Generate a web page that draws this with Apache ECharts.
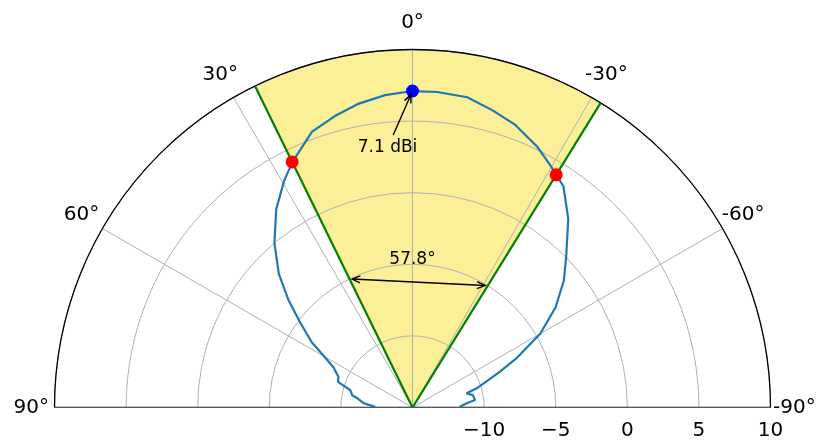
<!DOCTYPE html>
<html>
<head>
<meta charset="utf-8">
<script src="https://cdn.jsdelivr.net/npm/echarts@6/dist/echarts.min.js"></script>
<style>
  html, body { margin: 0; padding: 0; background: #fff; }
  #chart { width: 819px; height: 448px; }
</style>
</head>
<body>
<div id="chart"></div>
<script>
// Measured E-plane pattern: angle in degrees (positive to the left), gain in dBi
const patternAngle = [89, 85, 80.5, 78.5, 74.5, 71, 67.5, 63, 60, 57, 53, 49, 45, 40, 34.5, 29.5, 26, 20, 15, 10, 5, 0,
  -4.5, -10, -15, -20, -25.5, -30, -34.3, -39.5, -45.5, -50, -55, -60, -64.5, -67.7, -70.8, -73.3, -75.3, -78.4, -83.2, -85.6, -89];
const patternGain = [-12.4, -11.6, -11.1, -10.7, -10.5, -9.5, -9.4, -8.8, -7.9, -6.6, -5.2, -3.5, -1.8, 0.0, 1.8, 3.2, 4.1, 5.5, 6.05, 6.55, 6.9, 7.1,
  7.1, 7.0, 6.5, 6.0, 5.2, 4.4, 3.7, 2.1, 0.05, -1.2, -2.8, -4.7, -6.9, -8.4, -9.6, -10.3, -11.1, -10.7, -10.6, -11.2, -11.7];

// Peak and half-power beam edges
const peakAngle = 0;
const peakGain = 7.1;
const beamEdgeAngles = [26.1, -31.7];
const halfPowerGain = 4.1;
const beamwidth = 57.8;

// Axis ticks
const angleTicks = [-90, -60, -30, 0, 30, 60, 90];
const gainTicks = [-15, -10, -5, 0, 5, 10];

const gainMin = gainTicks[0];
const gainMax = gainTicks[gainTicks.length - 1];
const FONT = 'DejaVu Sans';

const patternData = patternAngle.map((a, i) => [patternGain[i], a]);

// Per-label spacing for the angular tick labels
const angleLabelStyle = {
  a90:  { padding: [0, 18.5, 0, 0] },
  a60:  { padding: [0, 14.5, 10, 0] },
  a30:  { padding: [0, 2, 24, 0] },
  a0:   { padding: [0, 0, 29.5, 0] },
  am30: { padding: [0, 0, 24, 0] },
  am60: { padding: [0, 0, 10, 10.5] },
  am90: { padding: [0, 0, 0, 15.5] }
};
Object.keys(angleLabelStyle).forEach(k => {
  Object.assign(angleLabelStyle[k], { fontSize: 20, fontFamily: FONT, color: '#000' });
});
function angleKey(v) { return v < 0 ? 'am' + (-v) : 'a' + v; }

function toward(p, q, d) {
  const dx = q[0] - p[0], dy = q[1] - p[1];
  const len = Math.hypot(dx, dy);
  return [p[0] + dx / len * d, p[1] + dy / len * d];
}
function arrowHead(tip, from, len, half) {
  const dx = tip[0] - from[0], dy = tip[1] - from[1];
  const d = Math.hypot(dx, dy);
  const ux = dx / d, uy = dy / d;
  const bx = tip[0] - ux * len, by = tip[1] - uy * len;
  return {
    type: 'polyline',
    shape: { points: [[bx - uy * half, by + ux * half], tip, [bx + uy * half, by - ux * half]] },
    style: { stroke: '#000', fill: null, lineWidth: 1.4 }
  };
}

const chart = echarts.init(document.getElementById('chart'), null, { renderer: 'canvas' });

const option = {
  animation: false,
  backgroundColor: '#fff',
  polar: { center: [412.5, 407.5], radius: 358 },
  angleAxis: {
    type: 'value',
    min: angleTicks[0],
    max: angleTicks[angleTicks.length - 1],
    interval: 30,
    startAngle: 0,
    endAngle: 180,
    clockwise: false,
    axisLine: { show: true, lineStyle: { color: '#000', width: 1.3 } },
    axisTick: { show: false },
    splitLine: { show: true, lineStyle: { color: '#b0b0b0', width: 1 } },
    axisLabel: {
      margin: -13,
      formatter: v => '{' + angleKey(v) + '|' + v + '°}',
      rich: angleLabelStyle
    }
  },
  radiusAxis: {
    type: 'value',
    min: gainMin,
    max: gainMax,
    interval: 5,
    axisLine: { show: false },
    axisTick: { show: false },
    splitLine: { show: true, lineStyle: { color: '#b0b0b0', width: 1 } },
    axisLabel: {
      margin: -23.5,
      verticalAlign: 'middle',
      fontSize: 20,
      fontFamily: FONT,
      color: '#000',
      formatter: v => (v === gainMin ? '' : String(v).replace('-', '\u2212'))
    }
  },
  series: [
    {
      // shaded half-power beam sector
      type: 'custom',
      coordinateSystem: 'polar',
      z: -1,
      silent: true,
      data: [[gainMax, beamEdgeAngles[0]]],
      renderItem: (params, api) => {
        const pts = [api.coord([gainMin, 0])];
        const a0 = beamEdgeAngles[0], a1 = beamEdgeAngles[1];
        const steps = 60;
        for (let i = 0; i <= steps; i++) {
          pts.push(api.coord([gainMax, a0 + (a1 - a0) * i / steps]));
        }
        return { type: 'polygon', shape: { points: pts }, style: { fill: '#fbef98', stroke: null } };
      }
    },
    {
      // baseline of the half-plane frame
      type: 'line',
      coordinateSystem: 'polar',
      data: [[gainMax, 90], [gainMax, -90]],
      showSymbol: false,
      silent: true,
      z: 1,
      lineStyle: { color: '#000', width: 1.3 }
    },
    {
      type: 'line',
      coordinateSystem: 'polar',
      data: patternData,
      showSymbol: false,
      smooth: false,
      z: 3,
      lineStyle: { color: '#1f77b4', width: 2.2 }
    },
    {
      type: 'line',
      coordinateSystem: 'polar',
      data: [[gainMin, beamEdgeAngles[0]], [gainMax, beamEdgeAngles[0]]],
      showSymbol: false,
      z: 4,
      lineStyle: { color: '#008000', width: 2.2 }
    },
    {
      type: 'line',
      coordinateSystem: 'polar',
      data: [[gainMin, beamEdgeAngles[1]], [gainMax, beamEdgeAngles[1]]],
      showSymbol: false,
      z: 4,
      lineStyle: { color: '#008000', width: 2.2 }
    },
    {
      type: 'scatter',
      coordinateSystem: 'polar',
      data: beamEdgeAngles.map(a => [halfPowerGain, a]),
      symbolSize: 13,
      z: 5,
      itemStyle: { color: '#ff0000', opacity: 1 }
    },
    {
      type: 'scatter',
      coordinateSystem: 'polar',
      data: [[peakGain, peakAngle]],
      symbolSize: 13,
      z: 5,
      itemStyle: { color: '#0000ff', opacity: 1 }
    },
    {
      // beamwidth and peak annotations
      type: 'custom',
      coordinateSystem: 'polar',
      z: 6,
      silent: true,
      data: [[peakGain, peakAngle]],
      renderItem: (params, api) => {
        const arrowR = -5;
        const a = api.coord([arrowR, beamEdgeAngles[0]]);
        const b = api.coord([arrowR, beamEdgeAngles[1]]);
        const a2 = toward(a, b, 2.7), b2 = toward(b, a, 2.7);
        const mid = api.coord([arrowR, 0]);
        const peak = api.coord([peakGain, peakAngle]);
        const lab = api.coord([3.2, 5.5]);
        const dx = peak[0] - lab[0], dy = peak[1] - lab[1];
        const k = 13 / Math.abs(dy);
        const s = [lab[0] + dx * k, lab[1] + dy * k];
        const e = toward(peak, lab, 4);
        return {
          type: 'group',
          children: [
            { type: 'line', shape: { x1: a2[0], y1: a2[1], x2: b2[0], y2: b2[1] }, style: { stroke: '#000', lineWidth: 1.4 } },
            arrowHead(a2, b2, 8, 3.5),
            arrowHead(b2, a2, 8, 3.5),
            {
              type: 'text', x: mid[0], y: mid[1] + 4,
              style: { text: beamwidth.toFixed(1) + '°', fill: '#000', fontSize: 17, fontFamily: FONT, align: 'center', verticalAlign: 'bottom' }
            },
            { type: 'line', shape: { x1: s[0], y1: s[1], x2: e[0], y2: e[1] }, style: { stroke: '#000', lineWidth: 1.4 } },
            arrowHead(e, s, 8, 3.5),
            {
              type: 'text', x: lab[0], y: lab[1],
              style: { text: peakGain.toFixed(1) + ' dBi', fill: '#000', fontSize: 17, fontFamily: FONT, align: 'center', verticalAlign: 'middle' }
            }
          ]
        };
      }
    }
  ]
};

chart.setOption(option);
</script>
</body>
</html>
